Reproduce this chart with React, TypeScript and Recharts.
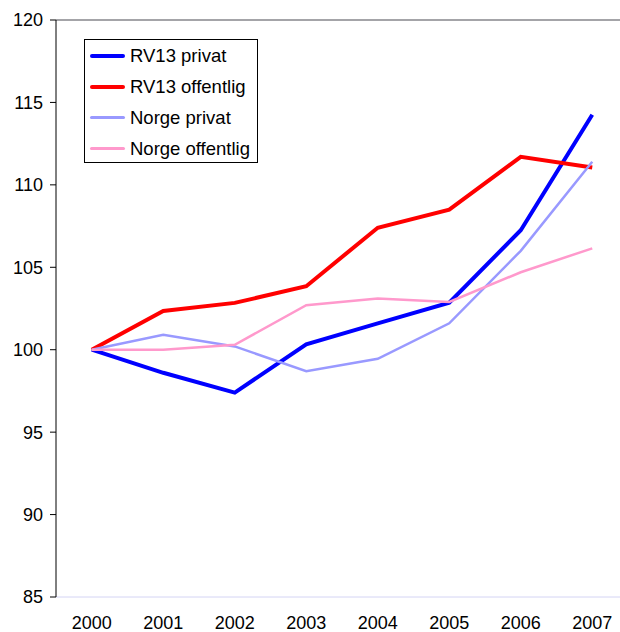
import React from "react";
import {
  LineChart,
  Line,
  XAxis,
  YAxis,
  CartesianGrid,
  ReferenceLine,
} from "recharts";

const years = ["2000", "2001", "2002", "2003", "2004", "2005", "2006", "2007"];
const rv13Privat = [100, 98.6, 97.4, 100.33, 101.6, 102.85, 107.25, 114.25];
const rv13Offentlig = [100, 102.35, 102.84, 103.85, 107.4, 108.5, 111.7, 111.05];
const norgePrivat = [100, 100.9, 100.2, 98.7, 99.45, 101.6, 106.0, 111.4];
const norgeOffentlig = [100, 100.0, 100.3, 102.7, 103.1, 102.9, 104.7, 106.15];
const yTicks = [85, 90, 95, 100, 105, 110, 115, 120];

const series = [
  { key: "rv13Privat", name: "RV13 privat", color: "#0000ff", width: 4 },
  { key: "rv13Offentlig", name: "RV13 offentlig", color: "#ff0000", width: 4 },
  { key: "norgePrivat", name: "Norge privat", color: "#9999ff", width: 2.5 },
  { key: "norgeOffentlig", name: "Norge offentlig", color: "#ff99cc", width: 2.5 },
];

const data = years.map((year, i) => ({
  idx: i,
  year,
  rv13Privat: rv13Privat[i],
  rv13Offentlig: rv13Offentlig[i],
  norgePrivat: norgePrivat[i],
  norgeOffentlig: norgeOffentlig[i],
}));

const font = "'Liberation Sans', Arial, sans-serif";

// legend drawn as an overlay so it doesn't shrink the plot area
function LegendBox() {
  return (
    <div
      style={{
        position: "absolute",
        left: 84,
        top: 39,
        border: "1px solid #000",
        background: "#fff",
        width: 174,
        height: 124,
        boxSizing: "border-box",
        fontFamily: font,
        fontSize: 18.5,
        color: "#000",
      }}
    >
      {series.map((s) => (
        <div key={s.key} style={{ display: "flex", alignItems: "center", height: 31 }}>
          <div
            style={{
              marginLeft: 5,
              width: 35,
              height: s.width,
              background: s.color,
              borderRadius: 2,
            }}
          />
          <span style={{ marginLeft: 5, whiteSpace: "nowrap" }}>{s.name}</span>
        </div>
      ))}
    </div>
  );
}

export default function App() {
  return (
    <div
      style={{
        position: "absolute",
        left: 0,
        top: 0,
        width: 620,
        height: 632,
        overflow: "hidden",
        background: "#fff",
      }}
    >
      <LineChart
        width={628}
        height={632}
        data={data}
        margin={{ top: 20, right: 0, bottom: 0, left: 0 }}
      >
        <CartesianGrid horizontal vertical={false} stroke="#d4d4f4" />
        <ReferenceLine yAxisId="y" xAxisId="labels" y={120} stroke="#8c8c8c" strokeWidth={1.5} />
        {/* tick marks sit between the categories, like the original */}
        <XAxis
          xAxisId="marks"
          dataKey="idx"
          type="number"
          domain={[-0.5, 7.5]}
          ticks={[0.5, 1.5, 2.5, 3.5, 4.5, 5.5, 6.5, 7.5]}
          tick={false}
          tickSize={6}
          height={0}
          stroke="#000"
          allowDataOverflow
        />
        <XAxis
          xAxisId="labels"
          dataKey="idx"
          type="number"
          domain={[-0.5, 7.5]}
          ticks={[0, 1, 2, 3, 4, 5, 6, 7]}
          tickFormatter={(v: number) => years[v]}
          axisLine={false}
          tickLine={false}
          tickSize={0}
          tickMargin={19}
          height={35}
          tick={{ fill: "#000", fontSize: 18, fontFamily: font }}
          allowDataOverflow
        />
        <YAxis
          yAxisId="y"
          domain={[85, 120]}
          ticks={yTicks}
          width={56}
          tickSize={6}
          tickMargin={7}
          stroke="#000"
          tick={{ fill: "#000", fontSize: 18, fontFamily: font }}
        />
        {series.map((s) => (
          <Line
            key={s.key}
            xAxisId="labels"
            yAxisId="y"
            type="linear"
            dataKey={s.key}
            name={s.name}
            stroke={s.color}
            strokeWidth={s.width}
            dot={false}
            isAnimationActive={false}
          />
        ))}
      </LineChart>
      <LegendBox />
    </div>
  );
}
